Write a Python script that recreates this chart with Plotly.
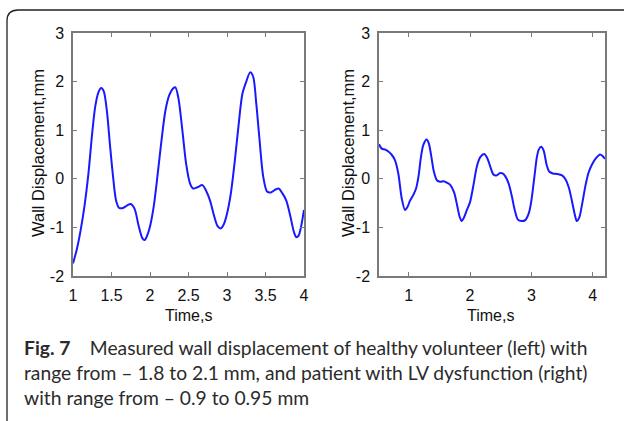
import plotly.graph_objects as go

# healthy volunteer (left panel)
t_healthy = [1.0, 1.05, 1.10, 1.15, 1.20, 1.25, 1.29, 1.33, 1.367, 1.40, 1.44, 1.48, 1.52, 1.56,
             1.60, 1.65, 1.70, 1.75, 1.80, 1.85, 1.90, 1.93, 1.96, 2.00, 2.05, 2.10, 2.15, 2.20,
             2.25, 2.30, 2.33, 2.37, 2.42, 2.47, 2.52, 2.56, 2.62, 2.68, 2.73, 2.78, 2.83, 2.88,
             2.92, 2.96, 3.00, 3.05, 3.10, 3.15, 3.20, 3.25, 3.30, 3.34, 3.38, 3.42, 3.47, 3.52,
             3.57, 3.63, 3.67, 3.72, 3.77, 3.82, 3.87, 3.90, 3.93, 3.96, 4.00]
d_healthy = [-1.74, -1.45, -1.05, -0.55, 0.10, 0.95, 1.50, 1.78, 1.87, 1.80, 1.40, 0.70, 0.05, -0.45,
             -0.60, -0.60, -0.55, -0.52, -0.62, -0.95, -1.22, -1.26, -1.18, -0.98, -0.55, 0.10, 0.80, 1.40,
             1.72, 1.86, 1.88, 1.65, 1.00, 0.30, -0.10, -0.20, -0.17, -0.13, -0.25, -0.45, -0.75, -0.98,
             -1.02, -0.93, -0.72, -0.30, 0.35, 1.10, 1.75, 2.00, 2.19, 2.10, 1.55, 0.85, 0.05, -0.26,
             -0.28, -0.22, -0.20, -0.30, -0.45, -0.75, -1.10, -1.20, -1.17, -1.00, -0.64]

# patient with LV dysfunction (right panel)
t_patient = [0.516, 0.56, 0.62, 0.668, 0.72, 0.777, 0.832, 0.886, 0.94, 0.98, 1.022, 1.08, 1.12, 1.16,
             1.20, 1.239, 1.293, 1.33, 1.37, 1.41, 1.46, 1.511, 1.57, 1.62, 1.68, 1.74, 1.79, 1.83,
             1.864, 1.90, 1.946, 2.00, 2.06, 2.11, 2.17, 2.23, 2.28, 2.33, 2.38, 2.43, 2.49, 2.53,
             2.58, 2.63, 2.68, 2.73, 2.78, 2.84, 2.90, 2.96, 3.00, 3.05, 3.09, 3.12, 3.16, 3.20,
             3.25, 3.29, 3.35, 3.42, 3.50, 3.56, 3.61, 3.66, 3.71, 3.74, 3.78, 3.83, 3.88, 3.93,
             3.99, 4.05, 4.12, 4.16, 4.20]
d_patient = [0.71, 0.62, 0.60, 0.56, 0.50, 0.38, 0.10, -0.40, -0.64, -0.58, -0.45, -0.32, -0.20, 0.05,
             0.45, 0.70, 0.81, 0.72, 0.45, 0.15, -0.03, -0.06, -0.05, -0.08, -0.13, -0.28, -0.55, -0.78,
             -0.87, -0.80, -0.65, -0.48, -0.10, 0.25, 0.45, 0.51, 0.43, 0.25, 0.09, 0.07, 0.12, 0.11,
             0.04, -0.10, -0.35, -0.65, -0.84, -0.87, -0.85, -0.70, -0.45, 0.05, 0.45, 0.60, 0.66, 0.58,
             0.28, 0.15, 0.11, 0.10, 0.07, -0.02, -0.18, -0.45, -0.75, -0.87, -0.80, -0.50, -0.15, 0.12,
             0.30, 0.42, 0.50, 0.47, 0.41]

y_ticks = [-2, -1, 0, 1, 2, 3]
y_tick_text = ['-2', '-1', '0', '1', '2', '3']
x_ticks_left = [1, 1.5, 2, 2.5, 3, 3.5, 4]
x_tick_text_left = ['1', '1.5', '2', '2.5', '3', '3.5', '4']
x_ticks_right = [1, 2, 3, 4]

W, H = 624, 421
def px(x):
    return x / W
def py(y):
    return 1 - y / H

LINE = 'rgb(25,25,255)'
AX = '#7a7a7a'
sans = 'Liberation Sans, Arial'

fig = go.Figure()
fig.add_trace(go.Scatter(x=t_healthy, y=d_healthy, mode='lines', line=dict(color=LINE, width=2, shape='spline', smoothing=0.8),
                         xaxis='x', yaxis='y', showlegend=False))
fig.add_trace(go.Scatter(x=t_patient, y=d_patient, mode='lines', line=dict(color=LINE, width=2, shape='spline', smoothing=0.8),
                         xaxis='x2', yaxis='y2', showlegend=False))

axis_style = dict(showline=True, linecolor=AX, linewidth=1.5, mirror='ticks', ticks='inside', ticklen=4,
                  tickcolor=AX, tickwidth=1, showgrid=False, zeroline=False, automargin=False,
                  tickfont=dict(family=sans, size=16, color='#111'), ticklabelstandoff=4)

fig.update_layout(
    width=W, height=H,
    margin=dict(l=0, r=0, t=0, b=0, pad=0, autoexpand=False),
    paper_bgcolor='white', plot_bgcolor='white',
    xaxis=dict(axis_style, domain=[px(73), px(304)], range=[1, 4], tickvals=x_ticks_left,
               ticktext=x_tick_text_left, anchor='y'),
    yaxis=dict(axis_style, domain=[py(276), py(33)], range=[-2, 3], tickvals=y_ticks,
               ticktext=y_tick_text, anchor='x'),
    xaxis2=dict(axis_style, domain=[px(379), px(605)], range=[0.516, 4.2], tickvals=x_ticks_right,
                anchor='y2'),
    yaxis2=dict(axis_style, domain=[py(276), py(33)], range=[-2, 3], tickvals=y_ticks,
                ticktext=y_tick_text, anchor='x2'),
)

annots = [
    dict(text='Wall Displacement,mm', x=px(38), y=py(153), textangle=-90,
         font=dict(family=sans, size=16.5, color='#111')),
    dict(text='Wall Displacement,mm', x=px(348), y=py(153), textangle=-90,
         font=dict(family=sans, size=16.5, color='#111')),
    dict(text='Time,s', x=px(188), y=py(315), font=dict(family=sans, size=16, color='#111')),
    dict(text='Time,s', x=px(490), y=py(315), font=dict(family=sans, size=16, color='#111')),
    dict(text='<b>Fig. 7</b>\u2003 Measured wall displacement of healthy volunteer (left) with<br>'
              'range from \u2013 1.8 to 2.1 mm, and patient with LV dysfunction (right)<br>'
              'with range from \u2013 0.9 to 0.95 mm',
         x=px(22), y=py(334), xanchor='left', yanchor='top', align='left',
         font=dict(family='Lato, Open Sans, sans-serif', size=19.3, color='#2b2b2b')),
]
for a in annots:
    a.setdefault('xanchor', 'center')
    a.setdefault('yanchor', 'middle')
    fig.add_annotation(a, xref='paper', yref='paper', showarrow=False)

# rounded frame around the figure
frame = (f'M {px(7)},{py(430)} L {px(7)},{py(21)} Q {px(7)},{py(10)} {px(18)},{py(10)} '
         f'L {px(640)},{py(10)}')
fig.add_shape(type='path', path=frame, xref='paper', yref='paper', line=dict(color='#222', width=1.3))

fig.write_html('out.html', config={'displayModeBar': False},
               post_script="document.body.style.margin='0';document.body.style.overflow='hidden';")
